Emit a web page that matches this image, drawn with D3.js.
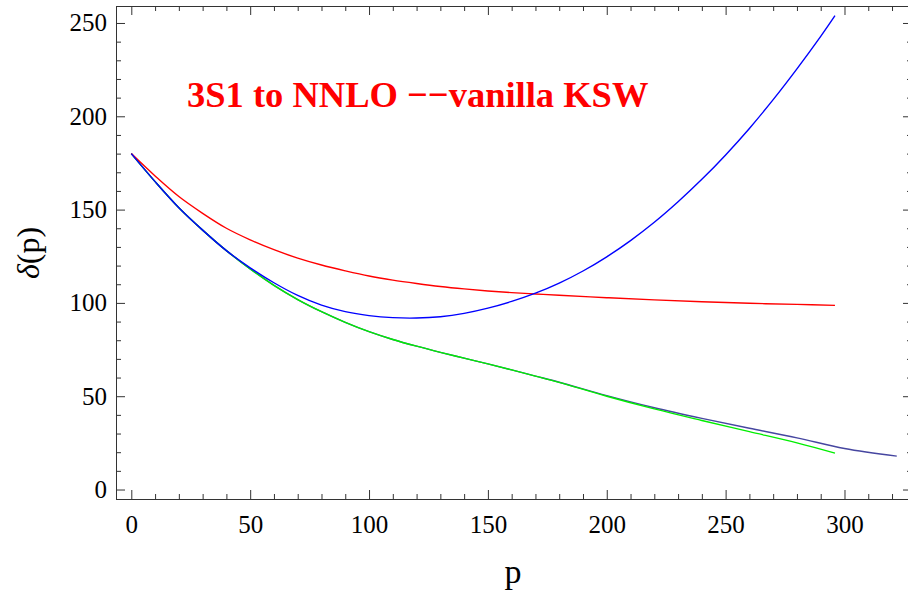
<!DOCTYPE html>
<html>
<head>
<meta charset="utf-8">
<script src="https://cdn.jsdelivr.net/npm/d3@7"></script>
<style>
    body { margin: 0; background: #fff; }
    svg { display: block; }
</style>
</head>
<body>
<svg id="chart" width="908" height="597"></svg>
<script>
// Momentum grid (every curve is sampled on its own p values).
const pRed = [0, 10, 20, 30, 40, 50, 60, 70, 80, 90, 100, 110, 120, 130, 140, 150, 160, 170, 180, 200, 220, 240, 260, 280, 296];
const deltaRed = [180, 168, 157, 148, 140, 133.8, 128.5, 124, 120.3, 117.2, 114.4, 112.2, 110.4, 108.8, 107.5, 106.4, 105.5, 104.8, 104.1, 102.8, 101.6, 100.6, 99.8, 99.2, 98.7];

const pBlue = [0, 10, 20, 30, 40, 50, 60, 70, 80, 90, 100, 110, 120, 130, 140, 150, 160, 170, 180, 190, 200, 210, 220, 230, 240, 250, 260, 270, 280, 290, 296];
const deltaBlue = [180, 165, 151, 139, 128, 118.8, 110.8, 104, 98.8, 95.3, 93.2, 92.1, 91.9, 92.6, 94.4, 97.2, 100.8, 105.2, 110.6, 117.1, 124.7, 133.4, 143.2, 154.2, 166.2, 179.3, 193.5, 208.9, 225.4, 242.8, 253.9];

const pGreen = [0, 10, 20, 30, 40, 50, 60, 70, 80, 90, 100, 110, 120, 130, 140, 150, 160, 170, 180, 200, 220, 240, 260, 280, 296];
const deltaGreen = [180, 165, 151, 139, 128, 118.2, 109.4, 101.8, 95.3, 89.6, 84.6, 80.4, 76.8, 73.5, 70.4, 67.3, 64.1, 60.8, 57.4, 50, 43.2, 37, 31, 25, 19.5];

const pNavy = [0, 10, 20, 30, 40, 50, 60, 70, 80, 90, 100, 110, 120, 130, 140, 150, 160, 170, 180, 200, 220, 240, 260, 280, 300, 322];
const deltaNavy = [180, 165, 151, 139, 128, 118.2, 109.4, 101.8, 95.3, 89.6, 84.6, 80.4, 76.8, 73.5, 70.4, 67.3, 64.1, 60.8, 57.5, 50.3, 43.8, 38.1, 32.8, 27.7, 22, 17.9];

const xMajor = [0, 50, 100, 150, 200, 250, 300];
const yMajor = [0, 50, 100, 150, 200, 250];

const titleText = '3S1 to NNLO \u2212\u2212vanilla KSW';
const xLabel = 'p';

// Frame in pixels (right edge lies just outside the picture).
const frame = {left: 116, right: 912, top: 6, bottom: 499};
const serif = "'Liberation Serif'";

let svg = d3.select('#chart');

let xScale = d3.scaleLinear()
    .domain([-6.44, 328.4])
    .range([frame.left, frame.right]);

let yScale = d3.scaleLinear()
    .domain([-5.08, 259.1])
    .range([frame.bottom, frame.top]);

let minorX = d3.range(0, 330, 10).filter(d => d % 50 !== 0);
let minorY = d3.range(0, 260, 10).filter(d => d % 50 !== 0);

// Helper to style an axis group like a Mathematica frame.
function styleAxis(g) {
    g.attr('font-family', serif).attr('font-size', 25);
    g.select('.domain').remove();
    g.selectAll('.tick line').attr('stroke', '#333').attr('stroke-width', 1);
    g.selectAll('.tick text').attr('fill', '#000').attr('font-family', serif);
}

// Bottom axis with labels.
svg.append('g')
    .attr('transform', 'translate(0,' + frame.bottom + ')')
    .call(d3.axisBottom(xScale).tickValues(xMajor).tickSizeInner(-9).tickSizeOuter(0).tickPadding(16))
    .call(styleAxis);
svg.append('g')
    .attr('transform', 'translate(0,' + frame.bottom + ')')
    .call(d3.axisBottom(xScale).tickValues(minorX).tickSizeInner(-5).tickSizeOuter(0).tickFormat(''))
    .call(styleAxis);

// Top ticks.
svg.append('g')
    .attr('transform', 'translate(0,' + frame.top + ')')
    .call(d3.axisTop(xScale).tickValues(xMajor).tickSizeInner(-9).tickSizeOuter(0).tickFormat(''))
    .call(styleAxis);
svg.append('g')
    .attr('transform', 'translate(0,' + frame.top + ')')
    .call(d3.axisTop(xScale).tickValues(minorX).tickSizeInner(-5).tickSizeOuter(0).tickFormat(''))
    .call(styleAxis);

// Left axis with labels.
svg.append('g')
    .attr('transform', 'translate(' + frame.left + ',0)')
    .call(d3.axisLeft(yScale).tickValues(yMajor).tickSizeInner(-9).tickSizeOuter(0).tickPadding(9))
    .call(styleAxis);
svg.append('g')
    .attr('transform', 'translate(' + frame.left + ',0)')
    .call(d3.axisLeft(yScale).tickValues(minorY).tickSizeInner(-5).tickSizeOuter(0).tickFormat(''))
    .call(styleAxis);

// Right ticks.
svg.append('g')
    .attr('transform', 'translate(' + frame.right + ',0)')
    .call(d3.axisRight(yScale).tickValues(yMajor).tickSizeInner(-9).tickSizeOuter(0).tickFormat(''))
    .call(styleAxis);
svg.append('g')
    .attr('transform', 'translate(' + frame.right + ',0)')
    .call(d3.axisRight(yScale).tickValues(minorY).tickSizeInner(-5).tickSizeOuter(0).tickFormat(''))
    .call(styleAxis);

// Frame rectangle.
svg.append('rect')
    .attr('x', frame.left + 0.5)
    .attr('y', frame.top + 0.5)
    .attr('width', frame.right - frame.left)
    .attr('height', frame.bottom - frame.top)
    .attr('fill', 'none')
    .attr('stroke', '#333')
    .attr('stroke-width', 1);

// Curves (Catmull-Rom keeps them smooth through the read points).
let line = d3.line()
    .x(d => xScale(d[0]))
    .y(d => yScale(d[1]))
    .curve(d3.curveCatmullRom.alpha(0.5));

let series = [
    {p: pNavy, v: deltaNavy, color: '#4646a0'},
    {p: pGreen, v: deltaGreen, color: '#00ee00'},
    {p: pRed, v: deltaRed, color: '#ff0000'},
    {p: pBlue, v: deltaBlue, color: '#0000ff'}
];

svg.append('g')
    .selectAll('path')
    .data(series)
    .join('path')
    .attr('d', d => line(d.p.map((p, i) => [p, d.v[i]])))
    .attr('fill', 'none')
    .attr('stroke', d => d.color)
    .attr('stroke-width', 1.4);

// Title inside the plot.
svg.append('text')
    .attr('x', 187)
    .attr('y', 107)
    .attr('fill', '#ff0000')
    .attr('font-family', serif)
    .attr('font-weight', 'bold')
    .attr('font-size', 36.5)
    .text(titleText);

// Axis labels.
svg.append('text')
    .attr('x', 513)
    .attr('y', 583)
    .attr('text-anchor', 'middle')
    .attr('font-family', serif)
    .attr('font-size', 34)
    .text(xLabel);

let yLab = svg.append('text')
    .attr('transform', 'translate(39,253) rotate(-90)')
    .attr('text-anchor', 'middle')
    .attr('font-family', serif)
    .attr('font-size', 32);
yLab.append('tspan').attr('font-style', 'italic').text('\u03b4');
yLab.append('tspan').text('(p)');
</script>
</body>
</html>
